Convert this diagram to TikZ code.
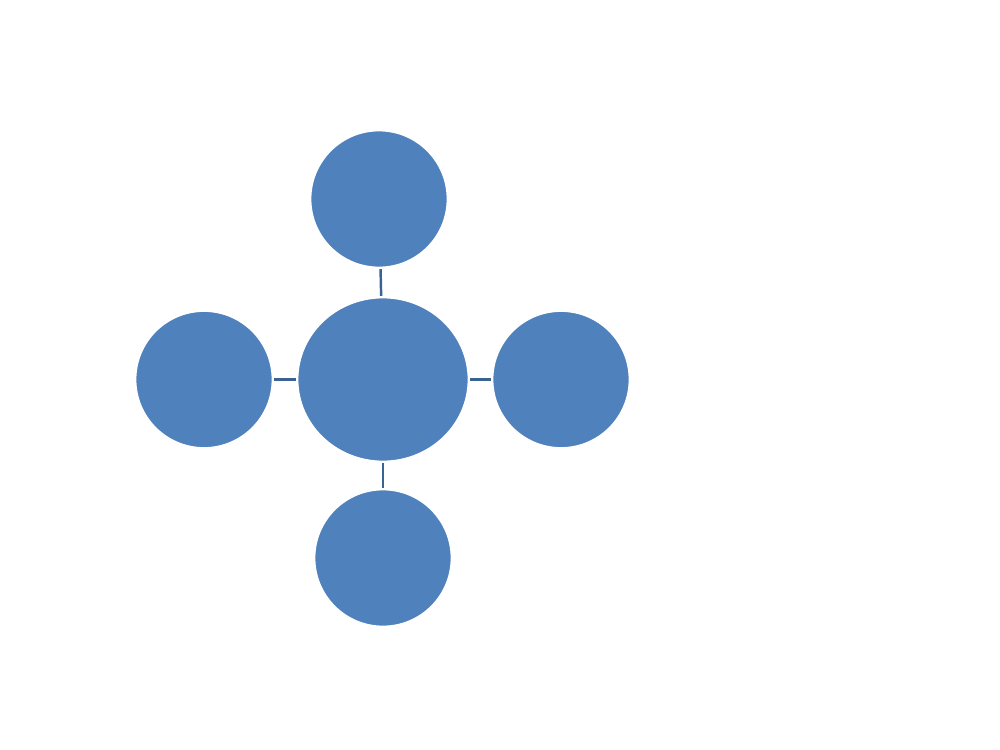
\documentclass[tikz,border=0pt]{standalone}
\usetikzlibrary{shapes.geometric}
\definecolor{bubble}{HTML}{4F81BD}
\definecolor{link}{HTML}{3A6394}
\begin{document}
\begin{tikzpicture}[x=0.02cm,y=-0.02cm,
  bub/.style={ellipse,fill=bubble,draw=white,line width=1pt,inner sep=0pt,outer sep=0pt,minimum width=2.74cm,minimum height=2.74cm},
  hub/.style={bub,minimum width=3.42cm,minimum height=3.28cm},
  conn/.style={draw=link,line width=1.4pt,shorten <=1pt,shorten >=1pt}]
\useasboundingbox (0,0) rectangle (1000,750);
\node[hub] (c) at (383,379.5) {};
\node[bub] (t) at (379,199) {};
\node[bub] (l) at (204,379.5) {};
\node[bub] (r) at (561,379.5) {};
\node[bub] (b) at (383,558) {};
\draw[conn] (t) -- (c);
\draw[conn] (l) -- (c);
\draw[conn] (r) -- (c);
\draw[conn] (b) -- (c);
\end{tikzpicture}
\end{document}
